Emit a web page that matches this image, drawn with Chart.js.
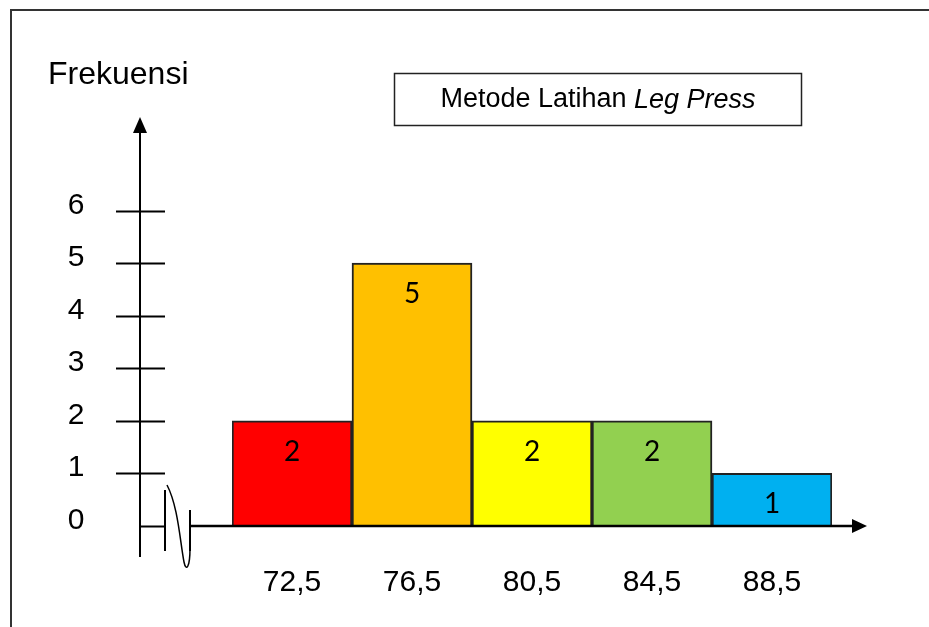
<!DOCTYPE html>
<html>
<head>
<meta charset="utf-8">
<script src="https://cdn.jsdelivr.net/npm/chart.js@4"></script>
<style>
  html, body { margin: 0; padding: 0; background: #fff; }
  #hist { display: block; }
</style>
</head>
<body>
<canvas id="hist" width="929" height="627"></canvas>
<script>
// data
const categories = ['72,5', '76,5', '80,5', '84,5', '88,5'];
const frequencies = [2, 5, 2, 2, 1];
const barColors = ['#FF0000', '#FFC000', '#FFFF00', '#92D050', '#00B0F0'];
const yTicks = [0, 1, 2, 3, 4, 5, 6];
const yTitle = 'Frekuensi';
const legendText = ['Metode Latihan ', 'Leg Press'];

const sans = '"Liberation Sans", Arial, sans-serif';
const $ctx = document.getElementById('hist').getContext('2d');

//hand drawn looking axes, frame, legend box
const handAxes = {
    id: 'handAxes',
    beforeDraw(chart) {
        const ctx = chart.ctx;
        ctx.save();
        // outer frame (goes off the right/bottom edge)
        ctx.strokeStyle = '#333';
        ctx.lineWidth = 2;
        ctx.strokeRect(11, 10, 940, 640);

        // title of y axis
        ctx.fillStyle = '#000';
        ctx.font = '32px ' + sans;
        ctx.textAlign = 'left';
        ctx.textBaseline = 'alphabetic';
        ctx.fillText(yTitle, 48, 84);

        // legend box
        ctx.lineWidth = 1.5;
        ctx.strokeStyle = '#222';
        ctx.strokeRect(394.5, 73.5, 407, 52);
        ctx.font = '27px ' + sans;
        const w1 = ctx.measureText(legendText[0]).width;
        ctx.font = 'italic 27px ' + sans;
        const w2 = ctx.measureText(legendText[1]).width;
        let x0 = 598 - (w1 + w2) / 2;
        ctx.textBaseline = 'middle';
        ctx.font = '27px ' + sans;
        ctx.fillText(legendText[0], x0, 100);
        ctx.font = 'italic 27px ' + sans;
        ctx.fillText(legendText[1], x0 + w1, 100);
        ctx.restore();
    },
    afterDatasetsDraw(chart) {
        const ctx = chart.ctx;
        const y = chart.scales.y;
        const x = chart.scales.x;
        const axisX = 140;
        const y0 = y.getPixelForValue(0);
        ctx.save();
        ctx.strokeStyle = '#000';
        ctx.fillStyle = '#000';
        ctx.lineWidth = 2;

        // value labels in the bars
        ctx.font = '28px Lato, "Open Sans", sans-serif';
        ctx.textAlign = 'center';
        ctx.textBaseline = 'middle';
        frequencies.forEach((f, i) => {
            ctx.fillText(String(f), x.getPixelForValue(i), y.getPixelForValue(f) + 31);
        });

        // y axis line + arrow
        ctx.beginPath();
        ctx.moveTo(axisX, 557);
        ctx.lineTo(axisX, 130);
        ctx.stroke();
        ctx.beginPath();
        ctx.moveTo(axisX, 117);
        ctx.lineTo(axisX - 7, 133);
        ctx.lineTo(axisX + 7, 133);
        ctx.closePath();
        ctx.fill();

        // ticks across the y axis + labels
        ctx.font = '30px ' + sans;
        ctx.textAlign = 'center';
        yTicks.forEach(v => {
            const py = Math.round(y.getPixelForValue(v)) + 0.5;
            ctx.beginPath();
            ctx.moveTo(v === 0 ? axisX : 116, py);
            ctx.lineTo(165, py);
            ctx.stroke();
            ctx.fillText(String(v), 76, py - 6);
        });

        // axis break
        ctx.beginPath();
        ctx.moveTo(165, y0 - 36);
        ctx.lineTo(165, y0 + 25);
        ctx.moveTo(190, y0 - 16);
        ctx.lineTo(190, y0 + 25);
        ctx.stroke();
        ctx.lineWidth = 1.5;
        ctx.beginPath();
        ctx.moveTo(167, y0 - 41);
        ctx.bezierCurveTo(178, y0 - 20, 180, y0 + 15, 184, y0 + 36);
        ctx.bezierCurveTo(186, y0 + 46, 190, y0 + 42, 190, y0 + 22);
        ctx.stroke();

        // x axis line + arrow
        ctx.lineWidth = 2.5;
        ctx.beginPath();
        ctx.moveTo(190, y0);
        ctx.lineTo(855, y0);
        ctx.stroke();
        ctx.beginPath();
        ctx.moveTo(867, y0);
        ctx.lineTo(852, y0 - 7);
        ctx.lineTo(852, y0 + 7);
        ctx.closePath();
        ctx.fill();

        // x tick labels
        ctx.font = '30px ' + sans;
        ctx.textAlign = 'center';
        categories.forEach((c, i) => {
            ctx.fillText(c, x.getPixelForValue(i), 583);
        });
        ctx.restore();
    }
};

const data = {
    labels: categories,
    datasets: [{
        data: frequencies,
        backgroundColor: barColors,
        borderColor: '#222',
        borderWidth: 2,
        barPercentage: 1,
        categoryPercentage: 1,
    }],
};

const config = {
    type: 'bar',
    data,
    options: {
        responsive: false,
        animation: false,
        devicePixelRatio: 1,
        layout: {
            padding: { left: 232, right: 97, top: 158, bottom: 101 },
        },
        scales: {
            x: { display: false },
            y: { display: false, min: 0, max: 7 },
        },
        plugins: {
            legend: { display: false },
            tooltip: { enabled: false },
        },
    },
    plugins: [handAxes],
};

new Chart($ctx, config);
</script>
</body>
</html>
